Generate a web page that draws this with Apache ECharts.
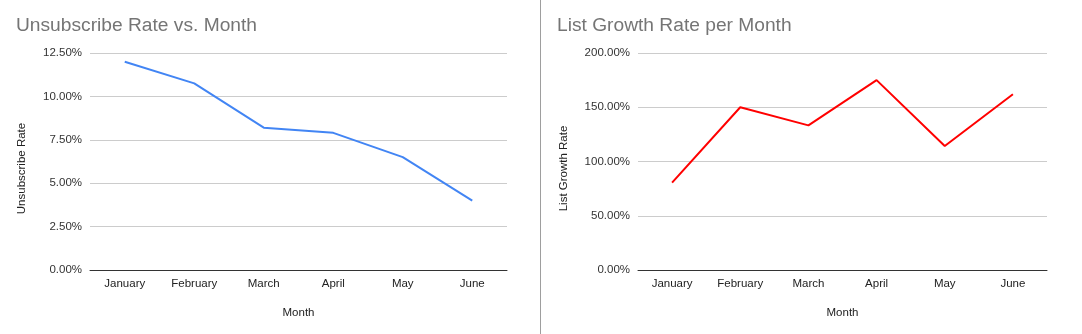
<!DOCTYPE html>
<html>
<head>
<meta charset="utf-8">
<script src="https://cdn.jsdelivr.net/npm/echarts@6/dist/echarts.min.js"></script>
<style>
html,body{margin:0;padding:0;background:#fff;}
#c{width:1082px;height:334px;}
</style>
</head>
<body>
<div id="c"></div>
<script>
var months = ['January','February','March','April','May','June'];
var unsubscribeRate = [12.0, 10.75, 8.2, 7.9, 6.5, 4.0];
var listGrowthRate = [80.6, 150.0, 133.3, 175.0, 114.3, 162.0];
var leftTitle = 'Unsubscribe Rate vs. Month';
var rightTitle = 'List Growth Rate per Month';

var FONT = '"Liberation Sans", Arial, sans-serif';
var FS = 11.5;
var chart = echarts.init(document.getElementById('c'), null, {renderer:'canvas'});

function pct(v){ return v.toFixed(2) + '%'; }

function yAxis(idx, max, interval, name, gap){
  return {
    gridIndex: idx, type:'value', min:0, max:max, interval:interval,
    name: name, nameLocation:'middle', nameGap: gap, nameRotate: 90,
    nameTextStyle:{color:'#222', fontSize:FS, fontFamily:FONT, padding:[0,14,0,0]},
    axisLine:{show:false}, axisTick:{show:false},
    axisLabel:{color:'#333', fontSize:FS, fontFamily:FONT, formatter: pct, margin:8},
    splitLine:{lineStyle:{color:'#cccccc', width:1}}
  };
}
function xAxis(idx){
  return {
    gridIndex: idx, type:'category', data: months, boundaryGap:true,
    name:'Month', nameLocation:'middle', nameGap:37,
    nameTextStyle:{color:'#222', fontSize:FS, fontFamily:FONT},
    axisLine:{lineStyle:{color:'#333', width:1}}, axisTick:{show:false},
    axisLabel:{color:'#222', fontSize:FS, fontFamily:FONT, margin:8, interval:0}
  };
}

chart.setOption({
  animation:false,
  backgroundColor:'#fff',
  title:[
    {text:leftTitle, left:11, top:11, textStyle:{color:'#757575', fontSize:19.2, fontWeight:'normal', fontFamily:FONT}},
    {text:rightTitle, left:552, top:11, textStyle:{color:'#757575', fontSize:19.2, fontWeight:'normal', fontFamily:FONT}}
  ],
  grid:[
    {left:90, right:575, top:53, bottom:64},
    {left:638, right:35, top:53, bottom:64}
  ],
  xAxis:[xAxis(0), xAxis(1)],
  yAxis:[
    yAxis(0, 12.5, 2.5, 'Unsubscribe Rate', 62),
    yAxis(1, 200, 50, 'List Growth Rate', 68)
  ],
  series:[
    {type:'line', xAxisIndex:0, yAxisIndex:0, data:unsubscribeRate, showSymbol:false, symbol:'none',
     lineStyle:{color:'#4285f4', width:2}},
    {type:'line', xAxisIndex:1, yAxisIndex:1, data:listGrowthRate, showSymbol:false, symbol:'none',
     lineStyle:{color:'#ff0000', width:2}}
  ],
  graphic:[
    {type:'line', shape:{x1:540.5, y1:0, x2:540.5, y2:334}, style:{stroke:'#9e9e9e', lineWidth:1}, silent:true}
  ]
});
</script>
</body>
</html>
